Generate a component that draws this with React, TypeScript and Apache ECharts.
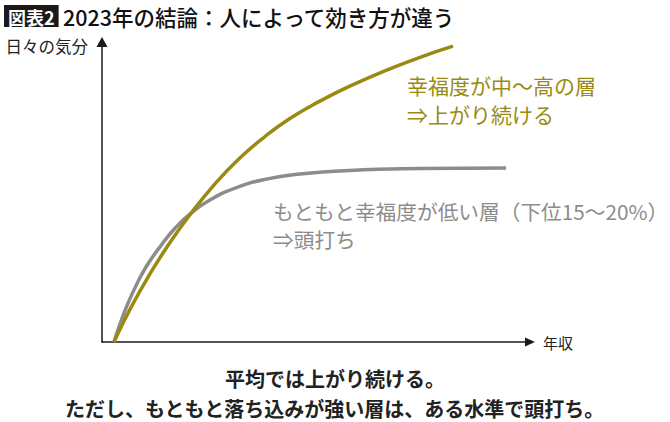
import { useEffect, useRef } from 'react'
import * as echarts from 'echarts'

// Curves: x = income (0–100 across the axis), y = daily mood (0–100 up the axis).
const INCOME_HIGH = [2.8, 6.5, 11.2, 15.9, 20.6, 26.4, 32.2, 38.1, 43.9, 50.9, 57.9, 66.1, 74.3, 82.0]
const MOOD_HIGH = [0, 10.8, 22.7, 33.2, 42.5, 52.7, 61.3, 68.5, 74.5, 80.3, 85.3, 90.4, 94.9, 98.6]
const INCOME_LOW = [2.8, 4.2, 6.1, 8.2, 10.5, 13.6, 17.1, 20.6, 25.2, 31.1, 38.1, 46.3, 57.9, 74.3, 94.4]
const MOOD_LOW = [0, 6.0, 13.0, 19.5, 25.5, 31.8, 38.0, 42.7, 47.3, 51.3, 54.2, 56.0, 57.2, 57.8, 58.0]

const FIG_LABEL = '図表2'
const TITLE = '2023年の結論：人によって効き方が違う'
const Y_NAME = '日々の気分'
const X_NAME = '年収'
const NOTE_HIGH = ['幸福度が中～高の層', '⇒上がり続ける']
const NOTE_LOW = ['もともと幸福度が低い層（下位15～20%）', '⇒頭打ち']
const SUMMARY = ['平均では上がり続ける。', 'ただし、もともと落ち込みが強い層は、ある水準で頭打ち。']

const FONT = '"Noto Sans CJK JP", "Noto Sans", sans-serif'
const GOLD = '#9a8a12'
const GREY = '#8c8c8c'
const INK = '#1a1a1a'

const zip = (xs: number[], ys: number[]) => xs.map((x, i) => [x, ys[i]])

export default function App() {
  const ref = useRef<HTMLDivElement>(null)

  useEffect(() => {
    const el = ref.current
    if (!el) return
    const chart = echarts.init(el, undefined, { renderer: 'svg' })
    chart.setOption(buildOption())
    return () => chart.dispose()
  }, [])

  return (
    <div
      ref={ref}
      style={{ position: 'absolute', left: 0, top: 0, width: 670, height: 422, background: '#fff' }}
    />
  )
}

// one graphic text per line, so each line sits where it does in the picture
function lines(texts: string[], left: number, top: number, step: number, style: object) {
  return texts.map((text, i) => ({
    type: 'text' as const,
    left,
    top: top + i * step,
    style: { text, fontFamily: FONT, ...style },
  }))
}

function buildOption(): echarts.EChartsOption {
  const axisLine = (size: number[]) => ({
    show: true,
    symbol: ['none', 'triangle'],
    symbolSize: size,
    lineStyle: { color: INK, width: 1.5 },
  })

  return {
    animation: false,
    textStyle: { fontFamily: FONT },
    grid: { left: 102, right: 140, top: 42, bottom: 80 },
    xAxis: {
      type: 'value',
      min: 0,
      max: 100,
      axisLine: axisLine([9, 10]),
      axisTick: { show: false },
      axisLabel: { show: false },
      splitLine: { show: false },
      name: X_NAME,
      nameLocation: 'end',
      nameGap: 13,
      nameTextStyle: { fontSize: 15, color: '#222', fontFamily: FONT },
    },
    yAxis: {
      type: 'value',
      min: 0,
      max: 100,
      axisLine: axisLine([11, 10]),
      axisTick: { show: false },
      axisLabel: { show: false },
      splitLine: { show: false },
      name: Y_NAME,
      nameLocation: 'end',
      nameGap: -4,
      nameTextStyle: {
        fontSize: 16.5,
        color: '#222',
        fontFamily: FONT,
        align: 'right',
        verticalAlign: 'middle',
        padding: [0, 14, 0, 0],
      },
    },
    series: [
      {
        type: 'line',
        data: zip(INCOME_LOW, MOOD_LOW),
        smooth: 0.5,
        showSymbol: false,
        lineStyle: { color: GREY, width: 3.5 },
      },
      {
        type: 'line',
        data: zip(INCOME_HIGH, MOOD_HIGH),
        smooth: 0.5,
        showSymbol: false,
        lineStyle: { color: GOLD, width: 3.5 },
      },
    ],
    graphic: [
      {
        type: 'text',
        left: 4,
        top: 5,
        style: {
          text: FIG_LABEL,
          fill: '#fff',
          backgroundColor: INK,
          padding: [2, 4, 1, 4],
          fontSize: 18,
          fontWeight: 'bold',
          fontFamily: FONT,
          lineHeight: 19,
        },
      },
      {
        type: 'text',
        left: 63,
        top: 3,
        style: { text: TITLE, fill: '#111', fontSize: 21.5, fontWeight: 500, fontFamily: FONT, lineHeight: 26 },
      },
      ...lines(NOTE_HIGH, 407, 72, 29, { fill: GOLD, fontSize: 21, lineHeight: 26 }),
      ...lines(NOTE_LOW, 273, 199, 28, { fill: GREY, fontSize: 20.7, lineHeight: 24 }),
      ...SUMMARY.map((line, i) => ({
        type: 'text' as const,
        left: 'center' as const,
        top: 364 + i * 30,
        style: { text: line, fill: '#222', fontSize: 20, fontWeight: 'bold' as const, fontFamily: FONT, lineHeight: 28 },
      })),
    ],
  }
}
